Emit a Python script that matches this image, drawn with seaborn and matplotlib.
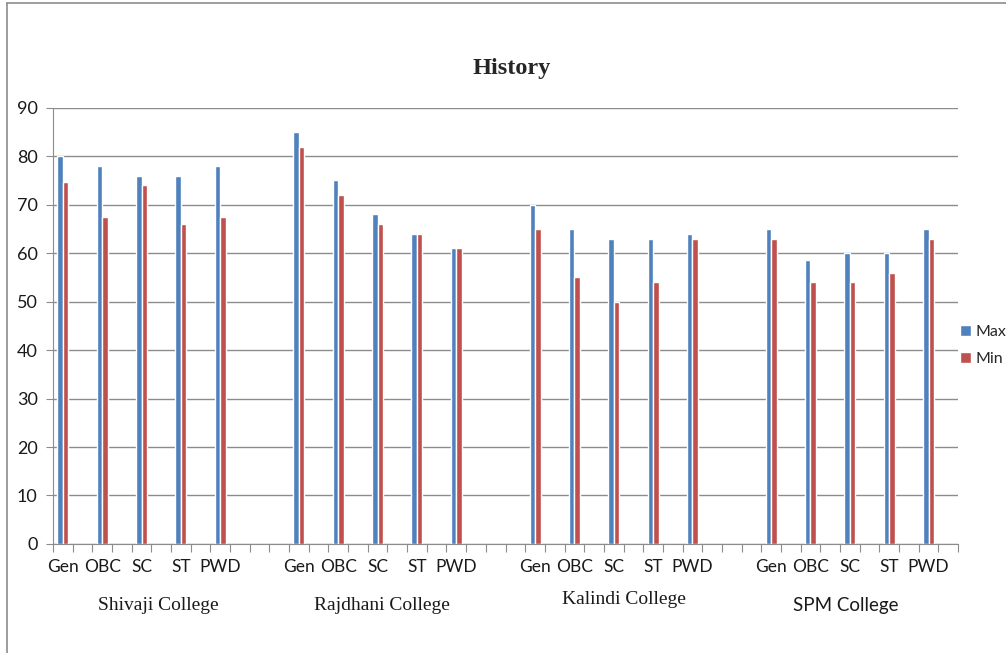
import pandas as pd
import matplotlib
matplotlib.use("Agg")
import matplotlib.pyplot as plt
import seaborn as sns
from matplotlib.lines import Line2D

# data
colleges = ["Shivaji College", "Rajdhani College", "Kalindi College", "SPM College"]
categories = ["Gen", "OBC", "SC", "ST", "PWD"]
max_marks = {
    "Shivaji College": [80, 78, 76, 76, 78],
    "Rajdhani College": [85, 75, 68, 64, 61],
    "Kalindi College": [70, 65, 63, 63, 64],
    "SPM College": [65, 58.5, 60, 60, 65],
}
min_marks = {
    "Shivaji College": [74.7, 67.5, 74, 66, 67.5],
    "Rajdhani College": [82, 72, 66, 64, 61],
    "Kalindi College": [65, 55, 50, 54, 63],
    "SPM College": [63, 54, 54, 56, 63],
}
series = ["Max", "Min"]

# Excel layout: every category is followed by an empty slot, plus 2 extra gaps between colleges
order = []
rows = []
for ci, col in enumerate(colleges):
    for k, cat in enumerate(categories):
        key = f"{col}|{cat}"
        order.append(key)
        order.append(f"blank{ci}_{k}")
        rows.append({"slot": key, "series": "Max", "value": max_marks[col][k]})
        rows.append({"slot": key, "series": "Min", "value": min_marks[col][k]})
    if ci < len(colleges) - 1:
        order += [f"gap{ci}_a", f"gap{ci}_b"]
df = pd.DataFrame(rows)

sns.set_style("white")
plt.rcParams["font.family"] = ["Lato", "DejaVu Sans"]

fig = plt.figure(figsize=(10.06, 6.53), dpi=100)
ax = fig.add_axes([0.0527, 0.167, 0.8996, 0.668])

sns.barplot(data=df, x="slot", y="value", hue="series", order=order,
            hue_order=series, palette=["#4F81BD", "#C0504D"], width=0.56,
            saturation=1, ax=ax, legend=True)

ax.set_ylim(0, 90)
ax.set_xlim(-0.5, len(order) - 0.5)
ax.set_yticks(range(0, 91, 10))
ax.yaxis.grid(True, color="#8c8c8c", linewidth=1)
ax.set_axisbelow(True)
ax.tick_params(axis="y", labelsize=13, length=5, color="#8c8c8c", left=True,
               pad=6, labelcolor="#1a1a1a")

# tick marks between slots, labels on category slots
ax.set_xticks([i - 0.5 for i in range(len(order) + 1)])
ax.set_xticklabels([])
ax.tick_params(axis="x", which="major", length=6, color="#8c8c8c", bottom=True)
pos = [i for i, k in enumerate(order) if "|" in k]
ax.set_xticks(pos, minor=True)
ax.set_xticklabels([k.split("|")[1] for k in order if "|" in k], minor=True)
ax.tick_params(axis="x", which="minor", length=0, labelsize=12.5, pad=11,
               labelcolor="#1a1a1a")
ax.set_xlabel("")
ax.set_ylabel("")

for s in ["top", "right"]:
    ax.spines[s].set_visible(False)
ax.spines["left"].set_color("#8c8c8c")
ax.spines["bottom"].set_color("#8c8c8c")

# college labels
trans = ax.get_xaxis_transform()
label_pos = {"Shivaji College": (4.85, -0.14), "Rajdhani College": (16.2, -0.14),
             "Kalindi College": (28.5, -0.128), "SPM College": (39.8, -0.14)}
for col in colleges:
    x, y = label_pos[col]
    fam = ["Liberation Serif"] if col != "SPM College" else ["Lato", "DejaVu Sans"]
    ax.text(x, y, col, transform=trans, ha="center", va="center",
            fontsize=14 if col != "SPM College" else 13.5, family=fam,
            color="#1a1a1a")

fig.text(0.509, 0.895, "History", ha="center", va="center", fontsize=17.5,
         fontweight="bold", family=["Liberation Serif"])

handles, labels = ax.get_legend_handles_labels()
ax.legend(handles, labels, loc="center left", bbox_to_anchor=(0.99, 0.455),
          frameon=False, fontsize=11.5, handlelength=0.65, handleheight=0.65,
          handletextpad=0.3, labelspacing=0.8, borderaxespad=0.3)

# chart border (cut off at the right and bottom)
fig.add_artist(Line2D([0.007, 0.007], [0.0, 0.995], transform=fig.transFigure,
                      color="#8c8c8c", linewidth=1.2))
fig.add_artist(Line2D([0.007, 1.0], [0.995, 0.995], transform=fig.transFigure,
                      color="#8c8c8c", linewidth=1.2))

fig.savefig("out.png", dpi=100, facecolor="white")
